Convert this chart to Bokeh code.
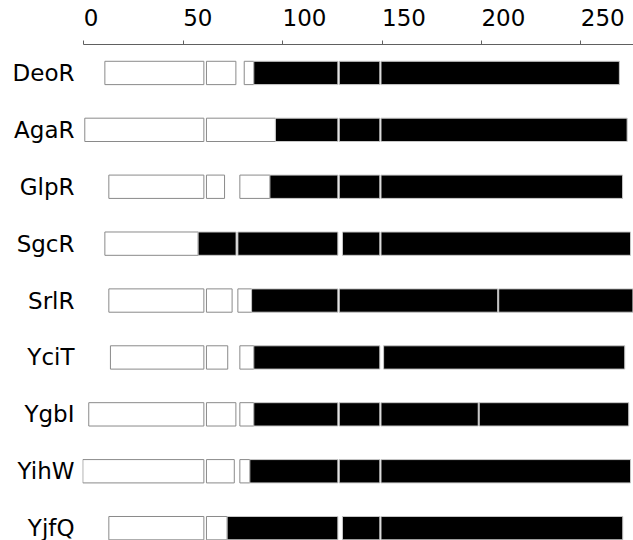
from bokeh.plotting import figure
from bokeh.models import Range1d, FixedTicker, ColumnDataSource
from bokeh.embed import file_html
from bokeh.resources import INLINE

# ---- data ----
proteins = ["DeoR", "AgaR", "GlpR", "SgcR", "SrlR", "YciT", "YgbI", "YihW", "YjfQ"]

# (start, end, kind)  kind: "w" = open (white) block, "b" = filled (black) block
deor = [(10.6, 60.4, "w"), (61.7, 76.5, "w"), (80.7, 85.5, "w"),
        (85.5, 127.8, "b"), (128.5, 148.9, "b"), (149.5, 269.4, "b")]
agar = [(0.5, 60.4, "w"), (61.7, 96.4, "w"),
        (96.4, 127.8, "b"), (128.5, 148.9, "b"), (149.5, 273.3, "b")]
glpr = [(12.6, 60.4, "w"), (61.7, 70.8, "w"), (78.5, 93.6, "w"),
        (93.6, 127.8, "b"), (128.5, 148.9, "b"), (149.5, 271.0, "b")]
sgcr = [(10.6, 57.5, "w"),
        (57.5, 76.6, "b"), (77.5, 127.8, "b"), (130.1, 148.9, "b"), (149.5, 275.0, "b")]
srlr = [(12.6, 60.4, "w"), (61.7, 74.6, "w"), (77.5, 84.4, "w"),
        (84.4, 127.8, "b"), (128.5, 208.2, "b"), (208.7, 276.2, "b")]
ycit = [(13.4, 60.4, "w"), (61.7, 72.4, "w"), (78.5, 85.5, "w"),
        (85.5, 148.9, "b"), (150.8, 272.1, "b")]
ygbi = [(2.5, 60.4, "w"), (61.7, 76.5, "w"), (78.5, 85.5, "w"),
        (85.5, 127.8, "b"), (128.5, 148.9, "b"), (149.5, 198.4, "b"), (198.9, 274.1, "b")]
yihw = [(-0.5, 60.4, "w"), (61.7, 75.7, "w"), (78.5, 83.5, "w"),
        (83.5, 127.8, "b"), (128.5, 148.9, "b"), (149.5, 275.0, "b")]
yjfq = [(12.6, 60.4, "w"), (61.7, 72.1, "w"),
        (72.1, 127.8, "b"), (130.1, 148.9, "b"), (149.5, 271.1, "b")]

x_ticks = [0, 50, 100, 150, 200, 250]

rows = [deor, agar, glpr, sgcr, srlr, ycit, ygbi, yihw, yjfq]

fills = {"w": "white", "b": "black"}
lines = {"w": "#8a8a8a", "b": "#c8c8c8"}

left, right, ys, fc, lc = [], [], [], [], []
for i, segs in enumerate(rows):
    for a, b, k in segs:
        left.append(a)
        right.append(b)
        ys.append(i)
        fc.append(fills[k])
        lc.append(lines[k])

src = ColumnDataSource(dict(left=left, right=right, y=ys, fill=fc, line=lc))

p = figure(width=633, height=540,
           x_range=Range1d(-0.65, 276.5), y_range=Range1d(8.217, -0.5),
           x_axis_location="above",
           output_backend="svg", toolbar_location=None,
           min_border_left=82, min_border_right=0,
           min_border_top=44, min_border_bottom=0)

p.hbar(y="y", left="left", right="right", height=0.41,
       fill_color="fill", line_color="line", line_width=1, source=src)

p.outline_line_color = None
p.xgrid.visible = False
p.ygrid.visible = False
p.background_fill_color = "white"
p.border_fill_color = "white"

xa = p.xaxis[0]
xa.ticker = FixedTicker(ticks=x_ticks)
# labels start at their tick (figure spaces keep the centred label left-aligned)
xa.major_label_overrides = {t: "\u2007" * len(str(t)) + str(t) for t in x_ticks}
xa.bounds = (0, 276.5)
xa.axis_line_color = "#606060"
xa.major_tick_line_color = "#606060"
xa.minor_tick_line_color = None
xa.major_tick_out = 4
xa.major_tick_in = 0
xa.major_label_standoff = 10
xa.major_label_text_font = "DejaVu Sans"
xa.major_label_text_font_size = "23px"
xa.major_label_text_color = "black"

ya = p.yaxis[0]
ya.ticker = FixedTicker(ticks=list(range(len(proteins))))
ya.major_label_overrides = {i: n for i, n in enumerate(proteins)}
ya.axis_line_color = None
ya.major_tick_line_color = None
ya.minor_tick_line_color = None
ya.major_tick_out = 0
ya.major_tick_in = 0
ya.major_label_standoff = 8
ya.major_label_text_font = "DejaVu Sans"
ya.major_label_text_font_size = "23px"
ya.major_label_text_color = "black"

open("out.html", "w").write(file_html(p, INLINE))
